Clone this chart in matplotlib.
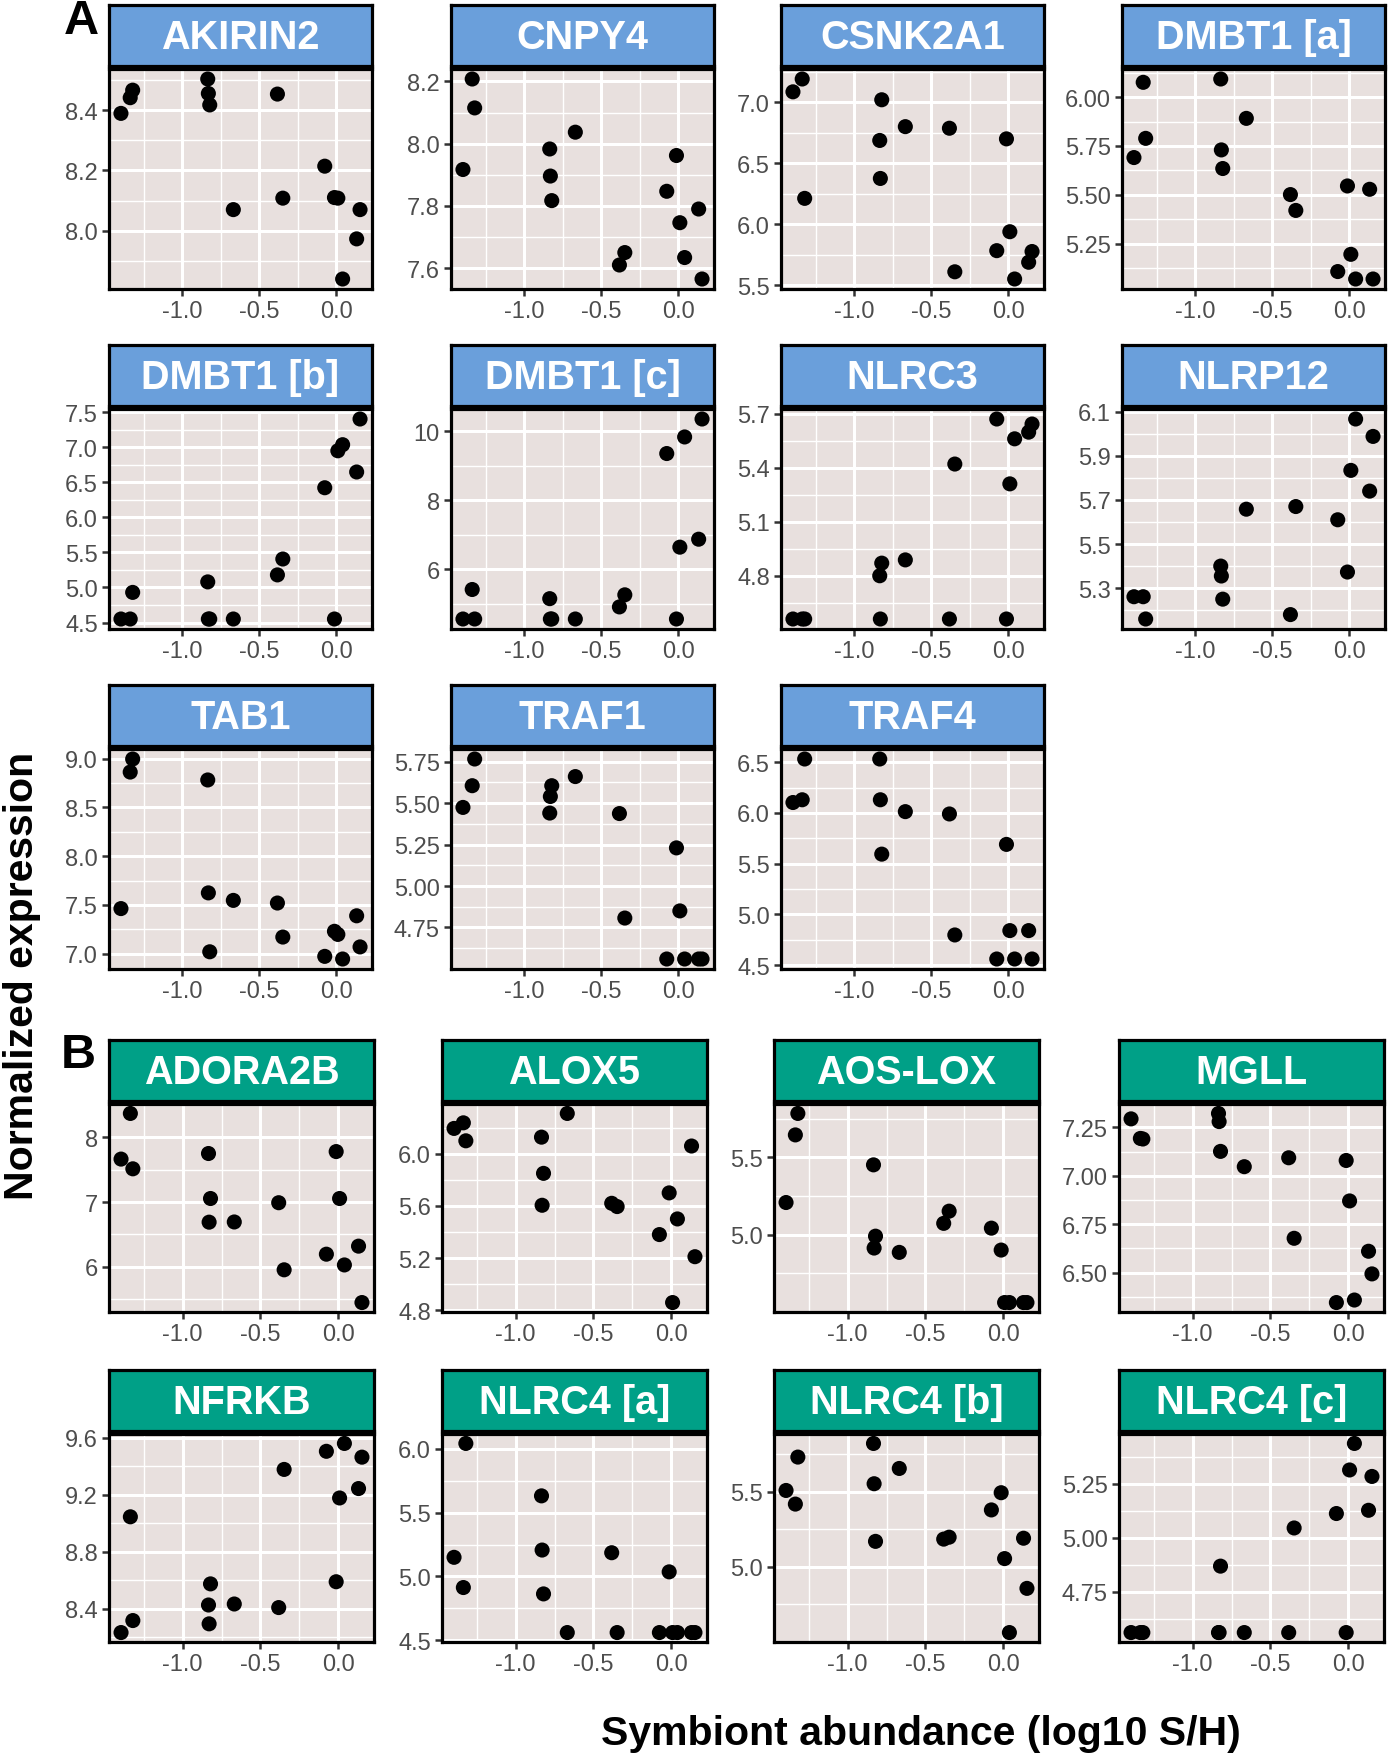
import matplotlib
matplotlib.use("Agg")
import matplotlib.pyplot as plt

plt.rcParams['font.family'] = ['Liberation Sans', 'DejaVu Sans']
plt.rcParams['axes.unicode_minus'] = False

# ---------------- data ----------------
# symbiont abundance (log10 S/H), shared by all genes (15 samples)
symbiont = [-1.397, -1.337, -1.321, -0.834, -0.830, -0.821, -0.668, -0.382,
            -0.347, -0.075, -0.012, 0.010, 0.041, 0.132, 0.154]
x_tick_labels = ["-1.0", "-0.5", "0.0"]

AKIRIN2 = [8.389, 8.441, 8.466, 8.503, 8.455, 8.417, 8.07, 8.453, 8.108, 8.214, 8.11, 8.108, 7.84, 7.973, 8.07]
CNPY4 = [7.917, 8.208, 8.115, 7.983, 7.896, 7.817, 8.037, 7.61, 7.65, 7.847, 7.962, 7.746, 7.634, 7.79, 7.565]
CSNK2A1 = [7.085, 7.19, 6.213, 6.687, 6.376, 7.02, 6.80, 6.787, 5.612, 5.785, 6.70, 5.94, 5.553, 5.69, 5.778]
DMBT1_a = [5.691, 6.075, 5.789, 6.092, 5.73, 5.635, 5.891, 5.502, 5.421, 5.109, 5.546, 5.197, 5.071, 5.529, 5.071]
DMBT1_b = [4.55, 4.55, 4.93, 5.08, 4.55, 4.55, 4.55, 5.18, 5.407, 6.425, 4.55, 6.953, 7.04, 6.65, 7.407]
DMBT1_c = [4.56, 5.414, 4.56, 5.149, 4.56, 4.56, 4.56, 4.91, 5.26, 9.35, 4.56, 6.64, 9.83, 6.87, 10.35]
NLRC3 = [4.56, 4.56, 4.56, 4.80, 4.56, 4.87, 4.888, 4.56, 5.42, 5.67, 4.56, 5.31, 5.56, 5.597, 5.642]
NLRP12 = [5.261, 5.261, 5.16, 5.40, 5.355, 5.25, 5.658, 5.18, 5.67, 5.61, 5.373, 5.834, 6.067, 5.74, 5.988]
TAB1 = [7.463, 8.863, 8.997, 8.782, 7.624, 7.02, 7.547, 7.52, 7.171, 6.973, 7.23, 7.198, 6.946, 7.389, 7.07]
TRAF1 = [5.474, 5.605, 5.766, 5.44, 5.54, 5.605, 5.66, 5.437, 4.807, 4.56, 5.23, 4.85, 4.56, 4.56, 4.56]
TRAF4 = [6.103, 6.13, 6.532, 6.532, 6.13, 5.594, 6.013, 5.99, 4.797, 4.56, 5.69, 4.84, 4.56, 4.84, 4.56]

ADORA2B = [7.663, 8.367, 7.513, 7.749, 6.69, 7.055, 6.693, 6.99, 5.955, 6.196, 7.779, 7.055, 6.03, 6.32, 5.45]
ALOX5 = [6.195, 6.238, 6.10, 6.128, 5.605, 5.85, 6.31, 5.62, 5.595, 5.38, 5.70, 4.858, 5.50, 6.06, 5.21]
AOS_LOX = [5.208, 5.646, 5.785, 5.452, 4.913, 4.99, 4.885, 5.073, 5.152, 5.042, 4.90, 4.56, 4.56, 4.56, 4.56]
MGLL = [7.294, 7.193, 7.19, 7.322, 7.28, 7.126, 7.047, 7.093, 6.677, 6.345, 7.079, 6.87, 6.358, 6.61, 6.493]
NFRKB = [8.234, 9.045, 8.318, 8.427, 8.295, 8.575, 8.434, 8.409, 9.377, 9.504, 8.59, 9.177, 9.559, 9.243, 9.463]
NLRC4_a = [5.15, 4.913, 6.043, 5.632, 5.207, 4.863, 4.56, 5.186, 4.56, 4.56, 5.036, 4.56, 4.56, 4.56, 4.56]
NLRC4_b = [5.509, 5.418, 5.732, 5.823, 5.554, 5.169, 5.656, 5.184, 5.197, 5.379, 5.494, 5.054, 4.56, 5.19, 4.855]
NLRC4_c = [4.56, 4.56, 4.56, 4.56, 4.56, 4.868, 4.56, 4.56, 5.045, 5.112, 4.56, 5.314, 5.437, 5.127, 5.284]

genes_A = ["AKIRIN2", "CNPY4", "CSNK2A1", "DMBT1 [a]", "DMBT1 [b]", "DMBT1 [c]",
           "NLRC3", "NLRP12", "TAB1", "TRAF1", "TRAF4"]
values_A = [AKIRIN2, CNPY4, CSNK2A1, DMBT1_a, DMBT1_b, DMBT1_c, NLRC3, NLRP12, TAB1, TRAF1, TRAF4]
yticks_A = [["8.0", "8.2", "8.4"], ["7.6", "7.8", "8.0", "8.2"], ["5.5", "6.0", "6.5", "7.0"],
            ["5.25", "5.50", "5.75", "6.00"], ["4.5", "5.0", "5.5", "6.0", "6.5", "7.0", "7.5"],
            ["6", "8", "10"], ["4.8", "5.1", "5.4", "5.7"], ["5.3", "5.5", "5.7", "5.9", "6.1"],
            ["7.0", "7.5", "8.0", "8.5", "9.0"], ["4.75", "5.00", "5.25", "5.50", "5.75"],
            ["4.5", "5.0", "5.5", "6.0", "6.5"]]

genes_B = ["ADORA2B", "ALOX5", "AOS-LOX", "MGLL", "NFRKB", "NLRC4 [a]", "NLRC4 [b]", "NLRC4 [c]"]
values_B = [ADORA2B, ALOX5, AOS_LOX, MGLL, NFRKB, NLRC4_a, NLRC4_b, NLRC4_c]
yticks_B = [["6", "7", "8"], ["4.8", "5.2", "5.6", "6.0"], ["5.0", "5.5"],
            ["6.50", "6.75", "7.00", "7.25"], ["8.4", "8.8", "9.2", "9.6"],
            ["4.5", "5.0", "5.5", "6.0"], ["5.0", "5.5"], ["4.75", "5.00", "5.25"]]

# ---------------- style / layout ----------------
W, H, DPI = 1391, 1756, 100
BG = "#E8E0DE"
BLUE = "#6A9FDB"
GREEN = "#00A087"
fig = plt.figure(figsize=(W / DPI, H / DPI), dpi=DPI)


def rect(l, t, w, h):
    return [l / W, 1 - (t + h) / H, w / W, h / H]


def expand(vals):
    lo, hi = min(vals), max(vals)
    r = hi - lo
    return lo - 0.05 * r, hi + 0.05 * r


def minors(ticks, lim):
    step = ticks[1] - ticks[0]
    cand = [t - step / 2 for t in ticks] + [ticks[-1] + step / 2]
    return [c for c in cand if lim[0] < c < lim[1]]


def panel(left, top, w, h, name, yvals, ytl, color):
    ax = fig.add_axes(rect(left, top, w, h))
    ax.set_facecolor(BG)
    ax.set_axisbelow(True)
    xl = expand(symbiont)
    yl = expand(yvals)
    ax.set_xlim(xl)
    ax.set_ylim(yl)
    xt = [float(s) for s in x_tick_labels]
    yt = [float(s) for s in ytl]
    ax.set_xticks(xt)
    ax.set_xticklabels(x_tick_labels)
    ax.set_yticks(yt)
    ax.set_yticklabels(ytl)
    ax.set_xticks(minors(xt, xl), minor=True)
    ax.set_yticks(minors(yt, yl), minor=True)
    ax.grid(which="major", color="white", lw=2.2)
    ax.grid(which="minor", color="white", lw=1.0)
    ax.tick_params(which="major", length=5, width=1.8, color="#333333",
                   labelsize=17, labelcolor="#4D4D4D", pad=3)
    ax.tick_params(which="minor", length=0)
    for sp in ax.spines.values():
        sp.set_color("black")
        sp.set_linewidth(2.3)
        sp.set_zorder(5)
    ax.scatter(symbiont, yvals, s=118, color="black", edgecolors="none", zorder=3)
    # strip
    st = fig.add_axes(rect(left, top - 64, w, 61))
    st.set_facecolor(color)
    st.set_xticks([])
    st.set_yticks([])
    for sp in st.spines.values():
        sp.set_color("black")
        sp.set_linewidth(2.3)
    st.text(0.5, 0.47, name, transform=st.transAxes, ha="center", va="center",
            color="white", fontsize=28.5, fontweight="bold")
    return ax


colsA = [109, 451, 781, 1122]
rowsA = [70, 410, 750]
for i, (g, v, t) in enumerate(zip(genes_A, values_A, yticks_A)):
    r, c = divmod(i, 4)
    panel(colsA[c], rowsA[r], 263, 220, g, v, t, BLUE)

colsB = [109, 442, 774, 1119]
rowsB = [1105, 1435]
for i, (g, v, t) in enumerate(zip(genes_B, values_B, yticks_B)):
    r, c = divmod(i, 4)
    panel(colsB[c], rowsB[r], 265, 208, g, v, t, GREEN)

fig.text(81 / W, 1 - 22 / H, "A", fontsize=35, fontweight="bold", ha="center", va="center")
fig.text(78 / W, 1 - 1056 / H, "B", fontsize=35, fontweight="bold", ha="center", va="center")
fig.text(22 / W, 1 - 976 / H, "Normalized expression", rotation=90, fontsize=29.5,
         fontweight="bold", ha="center", va="center")
fig.text(921 / W, 1 - 1734 / H, "Symbiont abundance (log10 S/H)", fontsize=29.5,
         fontweight="bold", ha="center", va="center")

fig.savefig("out.png", dpi=DPI)
